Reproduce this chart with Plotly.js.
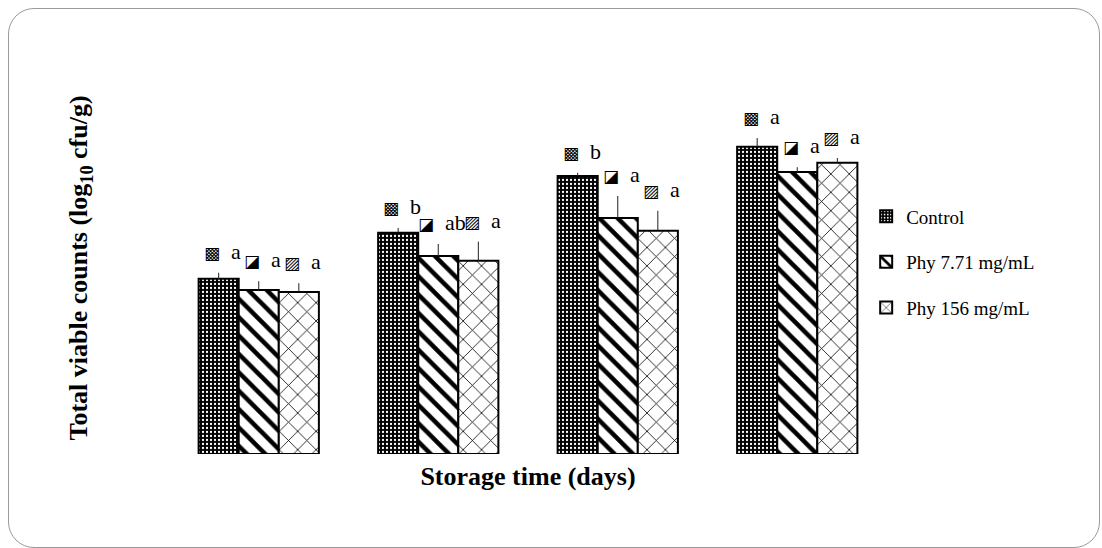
<!DOCTYPE html>
<html><head><meta charset="utf-8">
<script src="https://cdn.plot.ly/plotly-3.0.1.min.js"></script>
<style>
body{margin:0;background:#fff}
#wrap{position:relative;width:1102px;height:548px}
#chart{width:1102px;height:548px}
#frame{position:absolute;left:8px;top:8px;width:1092px;height:540px;border:1.5px solid #9a9a9a;border-radius:26px;pointer-events:none;box-sizing:border-box}
</style></head>
<body><div id="wrap"><div id="chart"></div><div id="frame"></div></div>
<script>
const categories = ['T1','T2','T3','T4'];
const seriesNames = ['Control','Phy 7.71 mg/mL','Phy 156 mg/mL'];
const controlVals = [4.38, 5.53, 6.95, 7.68];
const controlErr  = [0.15, 0.12, 0.08, 0.22];
const phy771Vals  = [4.10, 4.95, 5.90, 7.05];
const phy771Err   = [0.22, 0.30, 0.55, 0.12];
const phy156Vals  = [4.05, 4.83, 5.58, 7.28];
const phy156Err   = [0.22, 0.48, 0.50, 0.12];
const controlLetters = ['a','b','b','a'];
const phy771Letters  = ['a','ab','a','a'];
const phy156Letters  = ['a','a','a','a'];
const icons = ['▩','◪','▨'];

const vals = [controlVals, phy771Vals, phy156Vals];
const errs = [controlErr, phy771Err, phy156Err];
const letters = [controlLetters, phy771Letters, phy156Letters];
const patterns = [
  {shape:'.', bgcolor:'black', fgcolor:'white', size:4, solidity:0.25},
  {shape:'\\', bgcolor:'white', fgcolor:'black', size:13, solidity:0.35},
  {shape:'x', bgcolor:'white', fgcolor:'black', size:13, solidity:0.12}
];
const bgColors = ['black','white','white'];

const traces = vals.map((v,i)=>({
  type:'bar', name:seriesNames[i], x:categories, y:v, legendgroup:'g'+i,
  marker:{color:bgColors[i], pattern:patterns[i], line:{color:'black', width:2}},
  error_y:{type:'data', symmetric:false, array:errs[i], arrayminus:[0,0,0,0], width:0, thickness:1, color:'#222'}
}));

const bargap = 0.33;
const w = (1-bargap)/3;
const annotations = [];
vals.forEach((v,i)=>{
  v.forEach((y,j)=>{
    annotations.push({
      x: j + (i-1)*w, y: y + errs[i][j], xref:'x', yref:'y',
      text:'<span style="font-family:\'DejaVu Sans\';font-size:17px;color:black">'+icons[i]+'</span>  '+letters[i][j],
      showarrow:false, yanchor:'bottom', yshift:7, xshift:4,
      font:{family:'Liberation Serif', size:22, color:'black'}
    });
  });
});

const layout = {
  width:1102, height:548,
  margin:{l:169, r:215, t:82, b:94},
  paper_bgcolor:'white', plot_bgcolor:'white',
  barmode:'group', bargap:bargap, bargroupgap:0,
  font:{family:'Liberation Serif', color:'black', size:19},
  xaxis:{showticklabels:false, showline:false, zeroline:false, showgrid:false, ticks:'',
    title:{text:'<b>Storage time (days)</b>', font:{family:'Liberation Serif', size:26}, standoff:12}},
  yaxis:{range:[0,9.3], showticklabels:false, showline:false, zeroline:false, showgrid:false, ticks:'',
    title:{text:'<b>Total viable counts (log<sub>10</sub> cfu/g)</b>', font:{family:'Liberation Serif', size:26}, standoff:72}},
  legend:{x:0.971, xanchor:'left', y:0.69, yanchor:'top', traceorder:'grouped', tracegroupgap:18,
    font:{family:'Liberation Serif', size:19}, bgcolor:'rgba(0,0,0,0)'},
  annotations:annotations,
  showlegend:true
};
Plotly.newPlot('chart', traces, layout, {displayModeBar:false, staticPlot:true});
</script></body></html>
